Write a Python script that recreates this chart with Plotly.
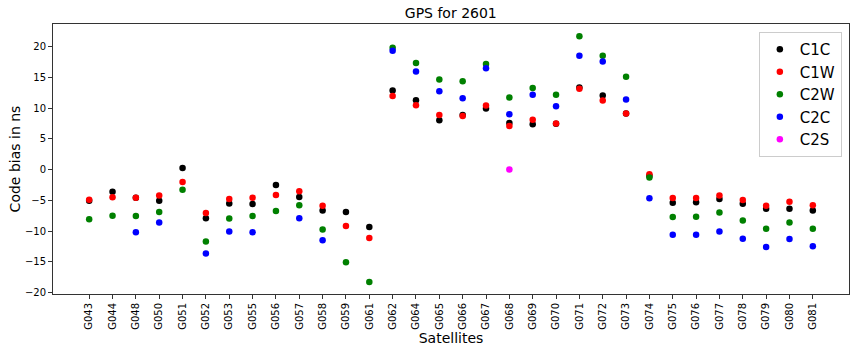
import plotly.graph_objects as go

satellites = ["G043","G044","G048","G050","G051","G052","G053","G055","G056","G057",
              "G058","G059","G061","G062","G064","G065","G066","G067","G068","G069",
              "G070","G071","G072","G073","G074","G075","G076","G077","G078","G079",
              "G080","G081"]

c1c = [-5.06,-3.6,-4.6,-5.06,0.27,-7.9,-5.5,-5.6,-2.5,-4.46,
       -6.64,-6.9,-9.35,12.88,11.3,8.04,8.9,9.95,7.6,7.4,
       7.45,13.38,12.07,9.13,-1.0,-5.4,-5.33,-4.8,-5.55,-6.37,
       -6.37,-6.64]
c1w = [-4.9,-4.5,-4.57,-4.2,-2.0,-7.07,-4.8,-4.57,-4.14,-3.54,
       -5.88,-9.2,-11.15,12.0,10.49,8.9,8.74,10.44,7.1,8.1,
       7.5,13.15,11.25,9.13,-0.77,-4.63,-4.63,-4.2,-4.95,-5.88,
       -5.22,-5.82]
c2w = [-8.1,-7.5,-7.56,-6.9,-3.3,-11.7,-7.94,-7.56,-6.75,-5.82,
       -9.74,-15.1,-18.3,19.84,17.34,14.68,14.4,17.18,11.74,13.3,
       12.17,21.7,18.53,15.1,-1.3,-7.73,-7.67,-6.97,-8.27,-9.63,
       -8.6,-9.63]
c2c = [None,None,-10.2,-8.6,None,-13.66,-10.07,-10.2,None,-7.9,
       -11.5,None,None,19.35,15.98,12.77,11.63,16.5,9.0,12.17,
       10.33,18.53,17.6,11.42,-4.68,-10.6,-10.6,-10.07,-11.26,-12.6,
       -11.3,-12.46]
c2s = [None]*18 + [0.0] + [None]*13

series = [("C1C", c1c, "black"), ("C1W", c1w, "red"), ("C2W", c2w, "green"),
          ("C2C", c2c, "blue"), ("C2S", c2s, "magenta")]

fig = go.Figure()
for name, vals, col in series:
    fig.add_trace(go.Scatter(x=satellites, y=vals, mode="markers", name=name,
                             marker=dict(color=col, size=6.5, line=dict(width=0))))

axis_common = dict(showline=True, linecolor="#333", linewidth=1, mirror=True,
                   ticks="outside", ticklen=4, tickcolor="#333", showgrid=False,
                   zeroline=False, tickfont=dict(family="DejaVu Sans", size=10, color="black"))

fig.update_layout(
    width=857, height=353,
    margin=dict(l=53, r=8, t=24, b=59),
    paper_bgcolor="white", plot_bgcolor="white",
    title=dict(text="GPS for 2601", x=0.526, xanchor="center", y=0.963, yanchor="middle",
               font=dict(family="DejaVu Sans", size=14, color="black")),
    font=dict(family="DejaVu Sans", color="black"),
    legend=dict(x=0.991, xanchor="right", y=0.97, yanchor="top",
                bgcolor="white", bordercolor="#cccccc", borderwidth=1,
                font=dict(family="DejaVu Sans", size=15, color="black"),
                itemwidth=30),
    showlegend=True,
)
fig.update_xaxes(**axis_common, type="category", range=[-1.55, 32.55], tickangle=-90,
                 title=dict(text="Satellites", font=dict(family="DejaVu Sans", size=14), standoff=4))
fig.update_yaxes(**axis_common, range=[-20.25, 23.7], tickvals=[-20,-15,-10,-5,0,5,10,15,20],
                 title=dict(text="Code bias in ns", font=dict(family="DejaVu Sans", size=14), standoff=0))

fig.write_html("out.html")
